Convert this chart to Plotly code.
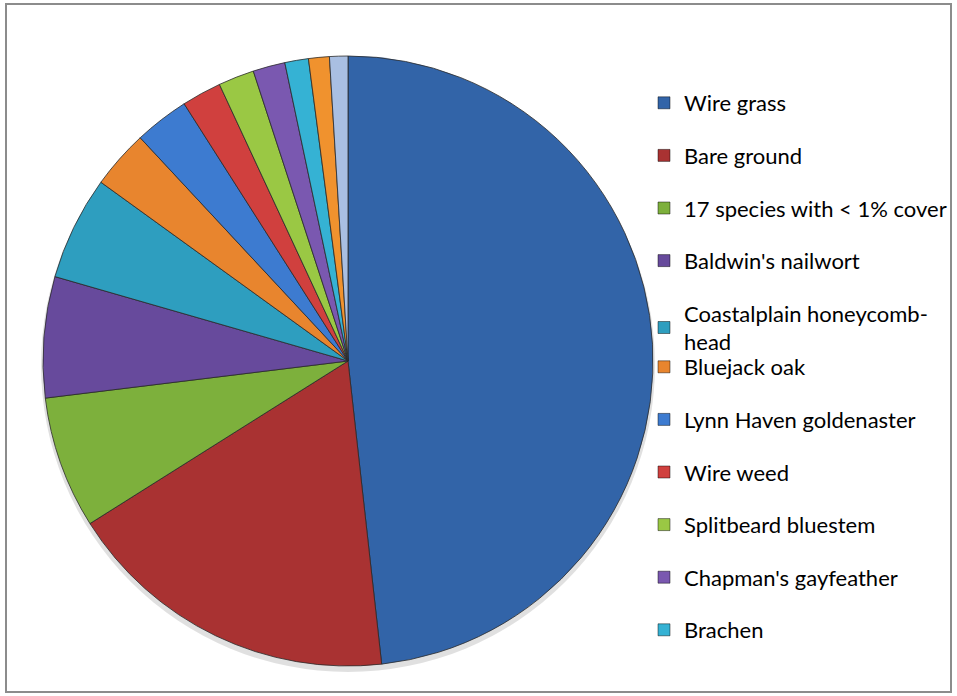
import plotly.graph_objects as go

# Ground-cover composition (percent of sampled cover)
species = [
    "Wire grass", "Bare ground", "17 species with < 1% cover", "Baldwin's nailwort",
    "Coastalplain honeycomb-<br>head", "Bluejack oak", "Lynn Haven goldenaster",
    "Wire weed", "Splitbeard bluestem", "Chapman's gayfeather", "Brachen",
    "Unlabeled 12", "Unlabeled 13",
]
cover = [48.2, 17.8, 7.0, 6.4, 5.5, 3.1, 2.9, 2.1, 1.9, 1.7, 1.25, 1.1, 0.97]
colors = [
    "#3264A8", "#A93232", "#7DB03C", "#674A9C", "#2E9EBF", "#E8852E",
    "#3D7BD0", "#D0403E", "#9AC844", "#7A58B0", "#35B2D4", "#F0922E", "#A9BFE2",
]
n_legend = 11          # entries listed in the key
split_at = 5           # first legend block holds the first five entries

W, H = 957, 696
cx, cy, r = 348, 361, 305

fig = go.Figure()

fig.add_trace(go.Pie(
    labels=species, values=cover, sort=False, direction="clockwise", rotation=0,
    marker=dict(colors=colors, line=dict(color="#2a2a2a", width=0.8)),
    textinfo="none", showlegend=False,
    domain=dict(x=[(cx - r) / W, (cx + r) / W], y=[1 - (cy + r) / H, 1 - (cy - r) / H]),
    hovertemplate="%{label}: %{value}%<extra></extra>",
))

# key entries
for i in range(n_legend):
    fig.add_trace(go.Scatter(
        x=[None], y=[None], mode="markers", name=species[i],
        marker=dict(symbol="square", size=12, color=colors[i],
                    line=dict(color="rgba(0,0,0,0.45)", width=1)),
        legendgroup=f"g{i}",
        legend="legend" if i < split_at else "legend2",
        hoverinfo="skip",
    ))

legend_font = dict(family="Lato, 'Open Sans', sans-serif", size=22, color="#000000")
fig.update_layout(
    width=W, height=H,
    margin=dict(l=0, r=0, t=0, b=0),
    paper_bgcolor="white", plot_bgcolor="white",
    xaxis=dict(visible=False), yaxis=dict(visible=False),
    legend=dict(x=644 / W, y=1 - 82 / H, xanchor="left", yanchor="top",
                font=legend_font, tracegroupgap=21, bgcolor="rgba(0,0,0,0)"),
    legend2=dict(x=644 / W, y=1 - 346 / H, xanchor="left", yanchor="top",
                 font=legend_font, tracegroupgap=21, bgcolor="rgba(0,0,0,0)"),
    shapes=[
        dict(type="rect", xref="paper", yref="paper",
             x0=6 / W, x1=951 / W, y0=1 - 692 / H, y1=1 - 4 / H,
             line=dict(color="#8c8c8c", width=2), fillcolor="rgba(0,0,0,0)", layer="below"),
        # soft drop shadow under the pie
        dict(type="circle", xref="paper", yref="paper",
             x0=(cx - r - 2) / W, x1=(cx + r + 2) / W,
             y0=1 - (cy + r + 6) / H, y1=1 - (cy - r + 2) / H,
             line=dict(width=0), fillcolor="rgba(0,0,0,0.12)", layer="below"),
    ],
)

fig.write_html("out.html")
